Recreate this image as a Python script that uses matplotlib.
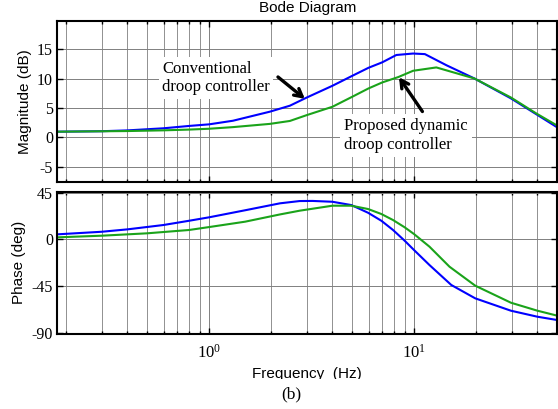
import matplotlib
matplotlib.use("Agg")
import matplotlib.pyplot as plt
from matplotlib.ticker import LogLocator, NullFormatter, FixedLocator
from matplotlib.patches import Rectangle

# ---- data ----
f_mag_conv = [0.182, 0.3, 0.4, 0.6, 0.8, 1.0, 1.31, 1.98, 2.48, 3.0, 4.0, 5.0, 6.0, 7.0, 8.2, 9.9, 11.3, 14.4, 19.7, 29.7, 39.4, 50.0]
mag_conv = [0.97, 1.05, 1.19, 1.55, 1.95, 2.22, 2.84, 4.38, 5.4, 6.8, 8.8, 10.5, 11.87, 12.8, 14.05, 14.3, 14.2, 12.3, 10.05, 6.65, 3.97, 1.7]

f_mag_prop = [0.182, 0.4, 0.6, 0.8, 1.0, 1.31, 1.98, 2.48, 3.0, 4.0, 5.0, 6.0, 7.0, 8.4, 9.9, 12.85, 19.7, 29.7, 39.4, 50.0]
mag_prop = [0.97, 1.08, 1.2, 1.33, 1.47, 1.75, 2.3, 2.8, 3.8, 5.22, 6.93, 8.35, 9.37, 10.3, 11.36, 11.93, 10.05, 6.8, 4.1, 2.0]

f_ph_conv = [0.182, 0.3, 0.4, 0.6, 0.8, 1.0, 1.5, 2.22, 2.77, 3.2, 4.0, 4.95, 5.97, 6.93, 7.9, 9.0, 10.0, 11.9, 15.2, 19.9, 29.7, 40.0, 50.0]
ph_conv = [4.8, 7.3, 9.6, 13.8, 17.9, 21.2, 28.0, 34.7, 36.9, 37.0, 36.2, 33.0, 25.6, 17.9, 9.0, -1.3, -10.3, -24.8, -44.0, -56.9, -68.8, -74.6, -77.8]

f_ph_prop = [0.182, 0.3, 0.5, 0.8, 1.0, 1.5, 2.22, 2.77, 4.0, 4.95, 5.97, 6.93, 7.9, 9.0, 10.0, 11.9, 14.9, 19.9, 29.7, 40.0, 50.0]
ph_prop = [1.9, 3.5, 5.8, 9.0, 11.8, 17.0, 24.0, 27.6, 32.4, 32.4, 29.2, 24.4, 18.6, 11.6, 5.1, -7.1, -26.4, -44.7, -61.1, -68.8, -73.6]

mag_ticks = [-5, 0, 5, 10, 15]
phase_ticks = [-90, -45, 0, 45]

SANS = "Liberation Sans"
SERIF = "Liberation Serif"
plt.rcParams["mathtext.fontset"] = "custom"
plt.rcParams["mathtext.rm"] = SERIF
plt.rcParams["mathtext.it"] = SERIF + ":italic"

W, H = 558, 409
fig = plt.figure(figsize=(W / 100, H / 100), dpi=100)

def px(l, t, r, b):
    return [l / W, 1 - b / H, (r - l) / W, (b - t) / H]

ax1 = fig.add_axes(px(57.3, 20.7, 557.3, 181.7))
ax2 = fig.add_axes(px(57.3, 191.7, 557.3, 334.0))

BLUE = "#0000ff"
GREEN = "#1aa31a"

ax1.plot(f_mag_conv, mag_conv, color=BLUE, lw=1.5, zorder=3)
ax1.plot(f_mag_prop, mag_prop, color=GREEN, lw=1.5, zorder=3)
ax2.plot(f_ph_conv, ph_conv, color=BLUE, lw=1.5, zorder=3)
ax2.plot(f_ph_prop, ph_prop, color=GREEN, lw=1.5, zorder=3)

for ax, ticks, ylim in ((ax1, mag_ticks, (-7.56, 19.9)), (ax2, phase_ticks, (-91.25, 45.9))):
    ax.set_xscale("log")
    ax.set_xlim(0.182, 50)
    ax.set_ylim(*ylim)
    ax.yaxis.set_major_locator(FixedLocator(ticks))
    ax.xaxis.set_major_locator(LogLocator(base=10, numticks=10))
    ax.xaxis.set_minor_locator(LogLocator(base=10, subs=range(2, 10), numticks=20))
    ax.xaxis.set_minor_formatter(NullFormatter())
    ax.grid(True, which="major", axis="both", color="#808080", lw=0.7, zorder=0)
    ax.grid(True, which="minor", axis="x", color="#909090", lw=0.7, zorder=0)
    ax.tick_params(which="both", direction="in", top=True, right=True, width=1.0)
    ax.tick_params(which="major", length=4)
    ax.tick_params(which="minor", length=2.5)
    ax.tick_params(axis="both", labelsize=11.5, pad=3)
    for lab in ax.get_yticklabels() + ax.get_xticklabels():
        lab.set_fontfamily(SERIF)
    for sp in ax.spines.values():
        sp.set_linewidth(1.5)
        sp.set_zorder(5)

ax1.set_yticklabels([str(t) for t in mag_ticks], fontfamily=SERIF, fontsize=11.5)
ax2.set_yticklabels([str(t) for t in phase_ticks], fontfamily=SERIF, fontsize=11.5)
ax1.tick_params(axis="x", labelbottom=False)
ax2.tick_params(axis="x", pad=7, labelsize=12)

ax1.set_title("Bode Diagram", fontfamily=SANS, fontsize=11)
ax1.set_ylabel("Magnitude (dB)", fontfamily=SANS, fontsize=11)
ax2.set_ylabel("Phase (deg)", fontfamily=SANS, fontsize=11)
ax2.set_xlabel("Frequency  (Hz)", fontfamily=SANS, fontsize=11, labelpad=4)

arrow = dict(arrowstyle="->,head_length=0.55,head_width=0.3", color="black", lw=2.4,
             shrinkA=0, shrinkB=0)

# annotations
ax1.text(0.59, 10.1, "Conventional\ndroop controller", fontfamily=SERIF, fontsize=12,
         ha="left", va="center", linespacing=1.2, zorder=4,
         bbox=dict(facecolor="white", edgecolor="none", pad=2.5))
ax1.annotate("", xy=(2.935, 6.57), xytext=(2.17, 10.3), arrowprops=arrow, zorder=6)
ax1.text(4.55, 0.35, "Proposed dynamic\ndroop controller", fontfamily=SERIF, fontsize=12,
         ha="left", va="center", linespacing=1.2, zorder=4,
         bbox=dict(facecolor="white", edgecolor="none", pad=3))
ax1.annotate("", xy=(8.45, 10.25), xytext=(10.99, 4.41), arrowprops=arrow, zorder=6)

# bottom caption, overlapping the axis label like the reference
fig.patches.append(Rectangle((0, 0), 1, 1 - 378.5 / H, transform=fig.transFigure,
                             facecolor="white", edgecolor="none", zorder=10))
fig.text(291 / W, 1 - 394 / H, "(b)", fontfamily=SERIF, fontsize=12.5,
         ha="center", va="center", zorder=11)

fig.savefig("out.png", dpi=100)
